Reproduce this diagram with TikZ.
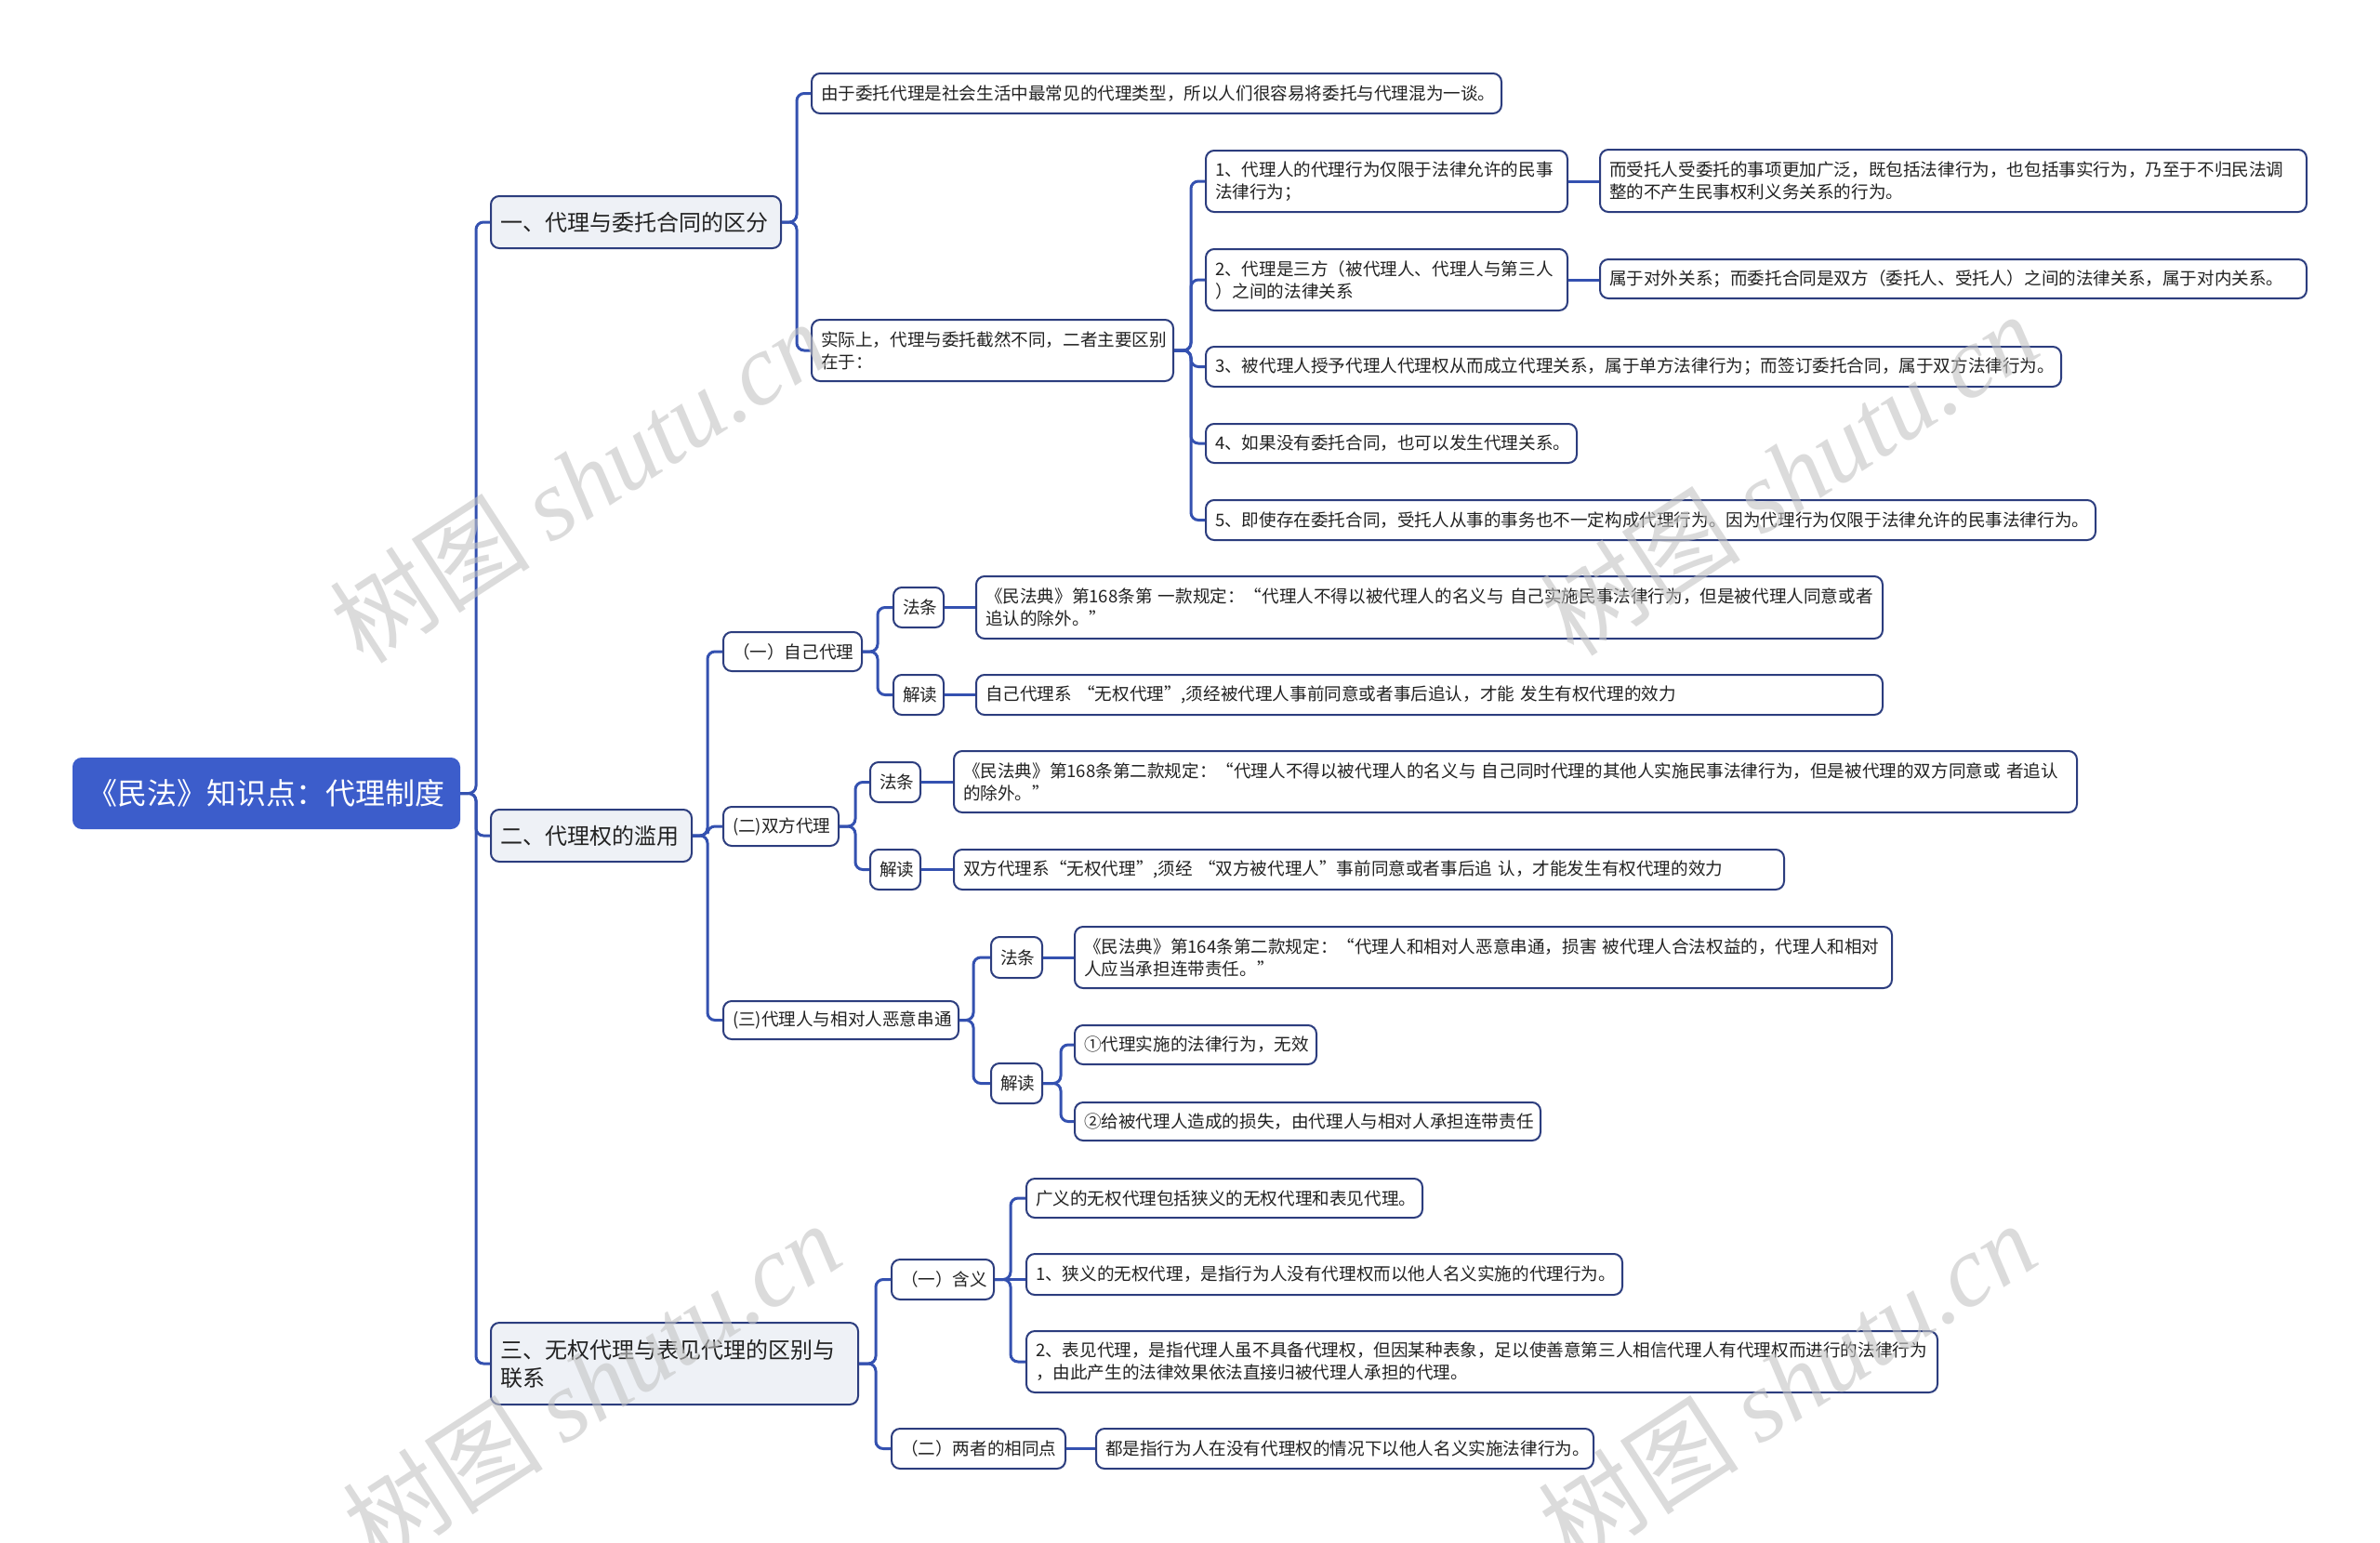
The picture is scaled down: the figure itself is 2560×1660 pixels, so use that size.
\documentclass[tikz,border=0pt]{standalone}
\usepackage{fontspec}
\setmainfont{Noto Sans CJK SC}
\newfontfamily\wmlatin{Liberation Serif}
\definecolor{rootblue}{HTML}{3C5DCB}
\definecolor{navy}{HTML}{2C3D7E}
\definecolor{linkblue}{HTML}{3451B0}
\definecolor{lvlfill}{HTML}{EEF1F6}
\definecolor{txt}{HTML}{222222}
\definecolor{wmgray}{HTML}{C4C4C4}
\newcommand\onel[1]{\mbox{#1}}
\tikzset{
  base/.style={draw=navy, line width=2pt, rounded corners=9pt, anchor=west, inner xsep=10pt, inner ysep=0pt, text=txt},
  rootbox/.style={base, draw=rootblue, fill=rootblue, text=white, font=\fontsize{32}{38}\selectfont, align=center},
  lvone/.style={base, fill=lvlfill, font=\fontsize{24}{30}\selectfont, align=left},
  leaf/.style={base, fill=white, font=\fontsize{18.6}{24}\selectfont, align=left},
  tagbox/.style={base, fill=white, font=\fontsize{18.6}{24}\selectfont, align=center},
  conn/.style={draw=linkblue, line width=3pt, rounded corners=8pt},
  wm/.style={rotate=33, text=wmgray, opacity=0.6, font=\fontsize{108}{110}\selectfont, inner sep=0pt},
}
\begin{document}
\begin{tikzpicture}[x=1pt, y=-1pt]
\useasboundingbox (0,0) rectangle (2560,1660);
\fill[white] (0,0) rectangle (2560,1660);

% root
\node[rootbox, text width=395pt, minimum height=75pt] (root) at (78,853.5) {\onel{《民法》知识点：代理制度}};

% level one
\node[lvone, text width=292pt, minimum height=56pt] (A) at (527,239) {\onel{一、代理与委托合同的区分}};
\node[lvone, text width=196pt, minimum height=56pt] (B) at (527,899) {\onel{二、代理权的滥用}};
\node[lvone, text width=375pt, minimum height=88pt] (C) at (527,1467) {\onel{三、无权代理与表见代理的区别与}\\\onel{联系}};

% branch A
\node[leaf, text width=722pt, minimum height=43pt] (A1) at (872,100.5) {\onel{由于委托代理是社会生活中最常见的代理类型，所以人们很容易将委托与代理混为一谈。}};
\node[leaf, text width=369pt, minimum height=66pt] (A2) at (872,377) {\onel{实际上，代理与委托截然不同，二者主要区别}\\\onel{在于：}};
\node[leaf, text width=369pt, minimum height=66pt] (A21) at (1296,195) {\onel{1、代理人的代理行为仅限于法律允许的民事}\\\onel{法律行为；}};
\node[leaf, text width=369pt, minimum height=66pt] (A22) at (1296,301) {\onel{2、代理是三方（被代理人、代理人与第三人}\\\onel{）之间的法律关系}};
\node[leaf, text width=900pt, minimum height=43pt] (A23) at (1296,394.5) {\onel{3、被代理人授予代理人代理权从而成立代理关系，属于单方法律行为；而签订委托合同，属于双方法律行为。}};
\node[leaf, text width=379pt, minimum height=42pt] (A24) at (1296,477) {\onel{4、如果没有委托合同，也可以发生代理关系。}};
\node[leaf, text width=937pt, minimum height=43pt] (A25) at (1296,559.5) {\onel{5、即使存在委托合同，受托人从事的事务也不一定构成代理行为。因为代理行为仅限于法律允许的民事法律行为。}};
\node[leaf, text width=740pt, minimum height=67pt] (A21c) at (1720,194.5) {\onel{而受托人受委托的事项更加广泛，既包括法律行为，也包括事实行为，乃至于不归民法调}\\\onel{整的不产生民事权利义务关系的行为。}};
\node[leaf, text width=740pt, minimum height=42pt] (A22c) at (1720,300) {\onel{属于对外关系；而委托合同是双方（委托人、受托人）之间的法律关系，属于对内关系。}};

% branch B
\node[leaf, text width=129pt, minimum height=42pt] (B1) at (777,701) {\onel{（一）自己代理}};
\node[leaf, text width=104pt, minimum height=42pt] (B2) at (777,889) {\onel{(二)双方代理}};
\node[leaf, text width=233pt, minimum height=41pt] (B3) at (777,1097.5) {\onel{(三)代理人与相对人恶意串通}};

\node[tagbox, text width=34pt, minimum height=43pt] (B1a) at (960,653.5) {\onel{法条}};
\node[tagbox, text width=34pt, minimum height=43pt] (B1b) at (960,747.5) {\onel{解读}};
\node[leaf, text width=955pt, minimum height=67pt] (B1ac) at (1049,653.5) {\onel{《民法典》第168条第 一款规定：“代理人不得以被代理人的名义与 自己实施民事法律行为，但是被代理人同意或者}\\\onel{追认的除外。”}};
\node[leaf, text width=955pt, minimum height=43pt] (B1bc) at (1049,747.5) {\onel{自己代理系 “无权代理”,须经被代理人事前同意或者事后追认，才能 发生有权代理的效力}};

\node[tagbox, text width=34pt, minimum height=43pt] (B2a) at (935,841.5) {\onel{法条}};
\node[tagbox, text width=34pt, minimum height=43pt] (B2b) at (935,935.5) {\onel{解读}};
\node[leaf, text width=1188pt, minimum height=66pt] (B2ac) at (1025,841) {\onel{《民法典》第168条第二款规定：“代理人不得以被代理人的名义与 自己同时代理的其他人实施民事法律行为，但是被代理的双方同意或 者追认}\\\onel{的除外。”}};
\node[leaf, text width=873pt, minimum height=43pt] (B2bc) at (1025,935.5) {\onel{双方代理系“无权代理”,须经 “双方被代理人”事前同意或者事后追 认，才能发生有权代理的效力}};

\node[tagbox, text width=35pt, minimum height=44pt] (B3a) at (1065,1030) {\onel{法条}};
\node[tagbox, text width=35pt, minimum height=43pt] (B3b) at (1065,1165.5) {\onel{解读}};
\node[leaf, text width=859pt, minimum height=66pt] (B3ac) at (1155,1030) {\onel{《民法典》第164条第二款规定：“代理人和相对人恶意串通，损害 被代理人合法权益的，代理人和相对}\\\onel{人应当承担连带责任。”}};
\node[leaf, text width=240pt, minimum height=42pt] (B3b1) at (1155,1124) {\onel{①代理实施的法律行为，无效}};
\node[leaf, text width=481pt, minimum height=41pt] (B3b2) at (1155,1206.5) {\onel{②给被代理人造成的损失，由代理人与相对人承担连带责任}};

% branch C
\node[leaf, text width=90pt, minimum height=43pt] (C1) at (958,1376.5) {\onel{（一）含义}};
\node[leaf, text width=167pt, minimum height=43pt] (C2) at (958,1558.5) {\onel{（二）两者的相同点}};
\node[leaf, text width=406pt, minimum height=42pt] (C1a) at (1103,1289) {\onel{广义的无权代理包括狭义的无权代理和表见代理。}};
\node[leaf, text width=621pt, minimum height=44pt] (C1b) at (1103,1371) {\onel{1、狭义的无权代理，是指行为人没有代理权而以他人名义实施的代理行为。}};
\node[leaf, text width=960pt, minimum height=66pt] (C1c) at (1103,1465) {\onel{2、表见代理，是指代理人虽不具备代理权，但因某种表象，足以使善意第三人相信代理人有代理权而进行的法律行为}\\\onel{，由此产生的法律效果依法直接归被代理人承担的代理。}};
\node[leaf, text width=515pt, minimum height=43pt] (C2c) at (1178,1558.5) {\onel{都是指行为人在没有代理权的情况下以他人名义实施法律行为。}};

% connectors
\foreach \c in {A,B,C} \draw[conn] (root.east) -- ++(17,0) |- (\c.west);
\foreach \c in {A1,A2} \draw[conn] (A.east) -- ++(16,0) |- (\c.west);
\foreach \c in {A21,A22,A23,A24,A25} \draw[conn] (A2.east) -- ++(18,0) |- (\c.west);
\draw[conn] (A21.east) -- (A21.east -| A21c.west);
\draw[conn] (A22.east) -- (A22.east -| A22c.west);
\foreach \c in {B1,B2,B3} \draw[conn] (B.east) -- ++(16,0) |- (\c.west);
\foreach \c in {B1a,B1b} \draw[conn] (B1.east) -- ++(16,0) |- (\c.west);
\draw[conn] (B1a.east) -- (B1a.east -| B1ac.west);
\draw[conn] (B1b.east) -- (B1b.east -| B1bc.west);
\foreach \c in {B2a,B2b} \draw[conn] (B2.east) -- ++(17,0) |- (\c.west);
\draw[conn] (B2a.east) -- (B2a.east -| B2ac.west);
\draw[conn] (B2b.east) -- (B2b.east -| B2bc.west);
\foreach \c in {B3a,B3b} \draw[conn] (B3.east) -- ++(15,0) |- (\c.west);
\draw[conn] (B3a.east) -- (B3a.east -| B3ac.west);
\foreach \c in {B3b1,B3b2} \draw[conn] (B3b.east) -- ++(19,0) |- (\c.west);
\foreach \c in {C1,C2} \draw[conn] (C.east) -- ++(18,0) |- (\c.west);
\foreach \c in {C1a,C1c} \draw[conn] (C1.east) -- ++(17,0) |- (\c.west);
\draw[conn] (C1.east) -- (C1.east -| C1b.west);
\draw[conn] (C2.east) -- (C2.east -| C2c.west);

% watermarks
\node[wm] (wm1) at (622,518) {树图 {\wmlatin\itshape shutu.cn}};
\node[wm] (wm2) at (1924,510) {树图 {\wmlatin\itshape shutu.cn}};
\node[wm] (wm3) at (636,1488) {树图 {\wmlatin\itshape shutu.cn}};
\node[wm] (wm4) at (1922,1488) {树图 {\wmlatin\itshape shutu.cn}};
\end{tikzpicture}
\end{document}
